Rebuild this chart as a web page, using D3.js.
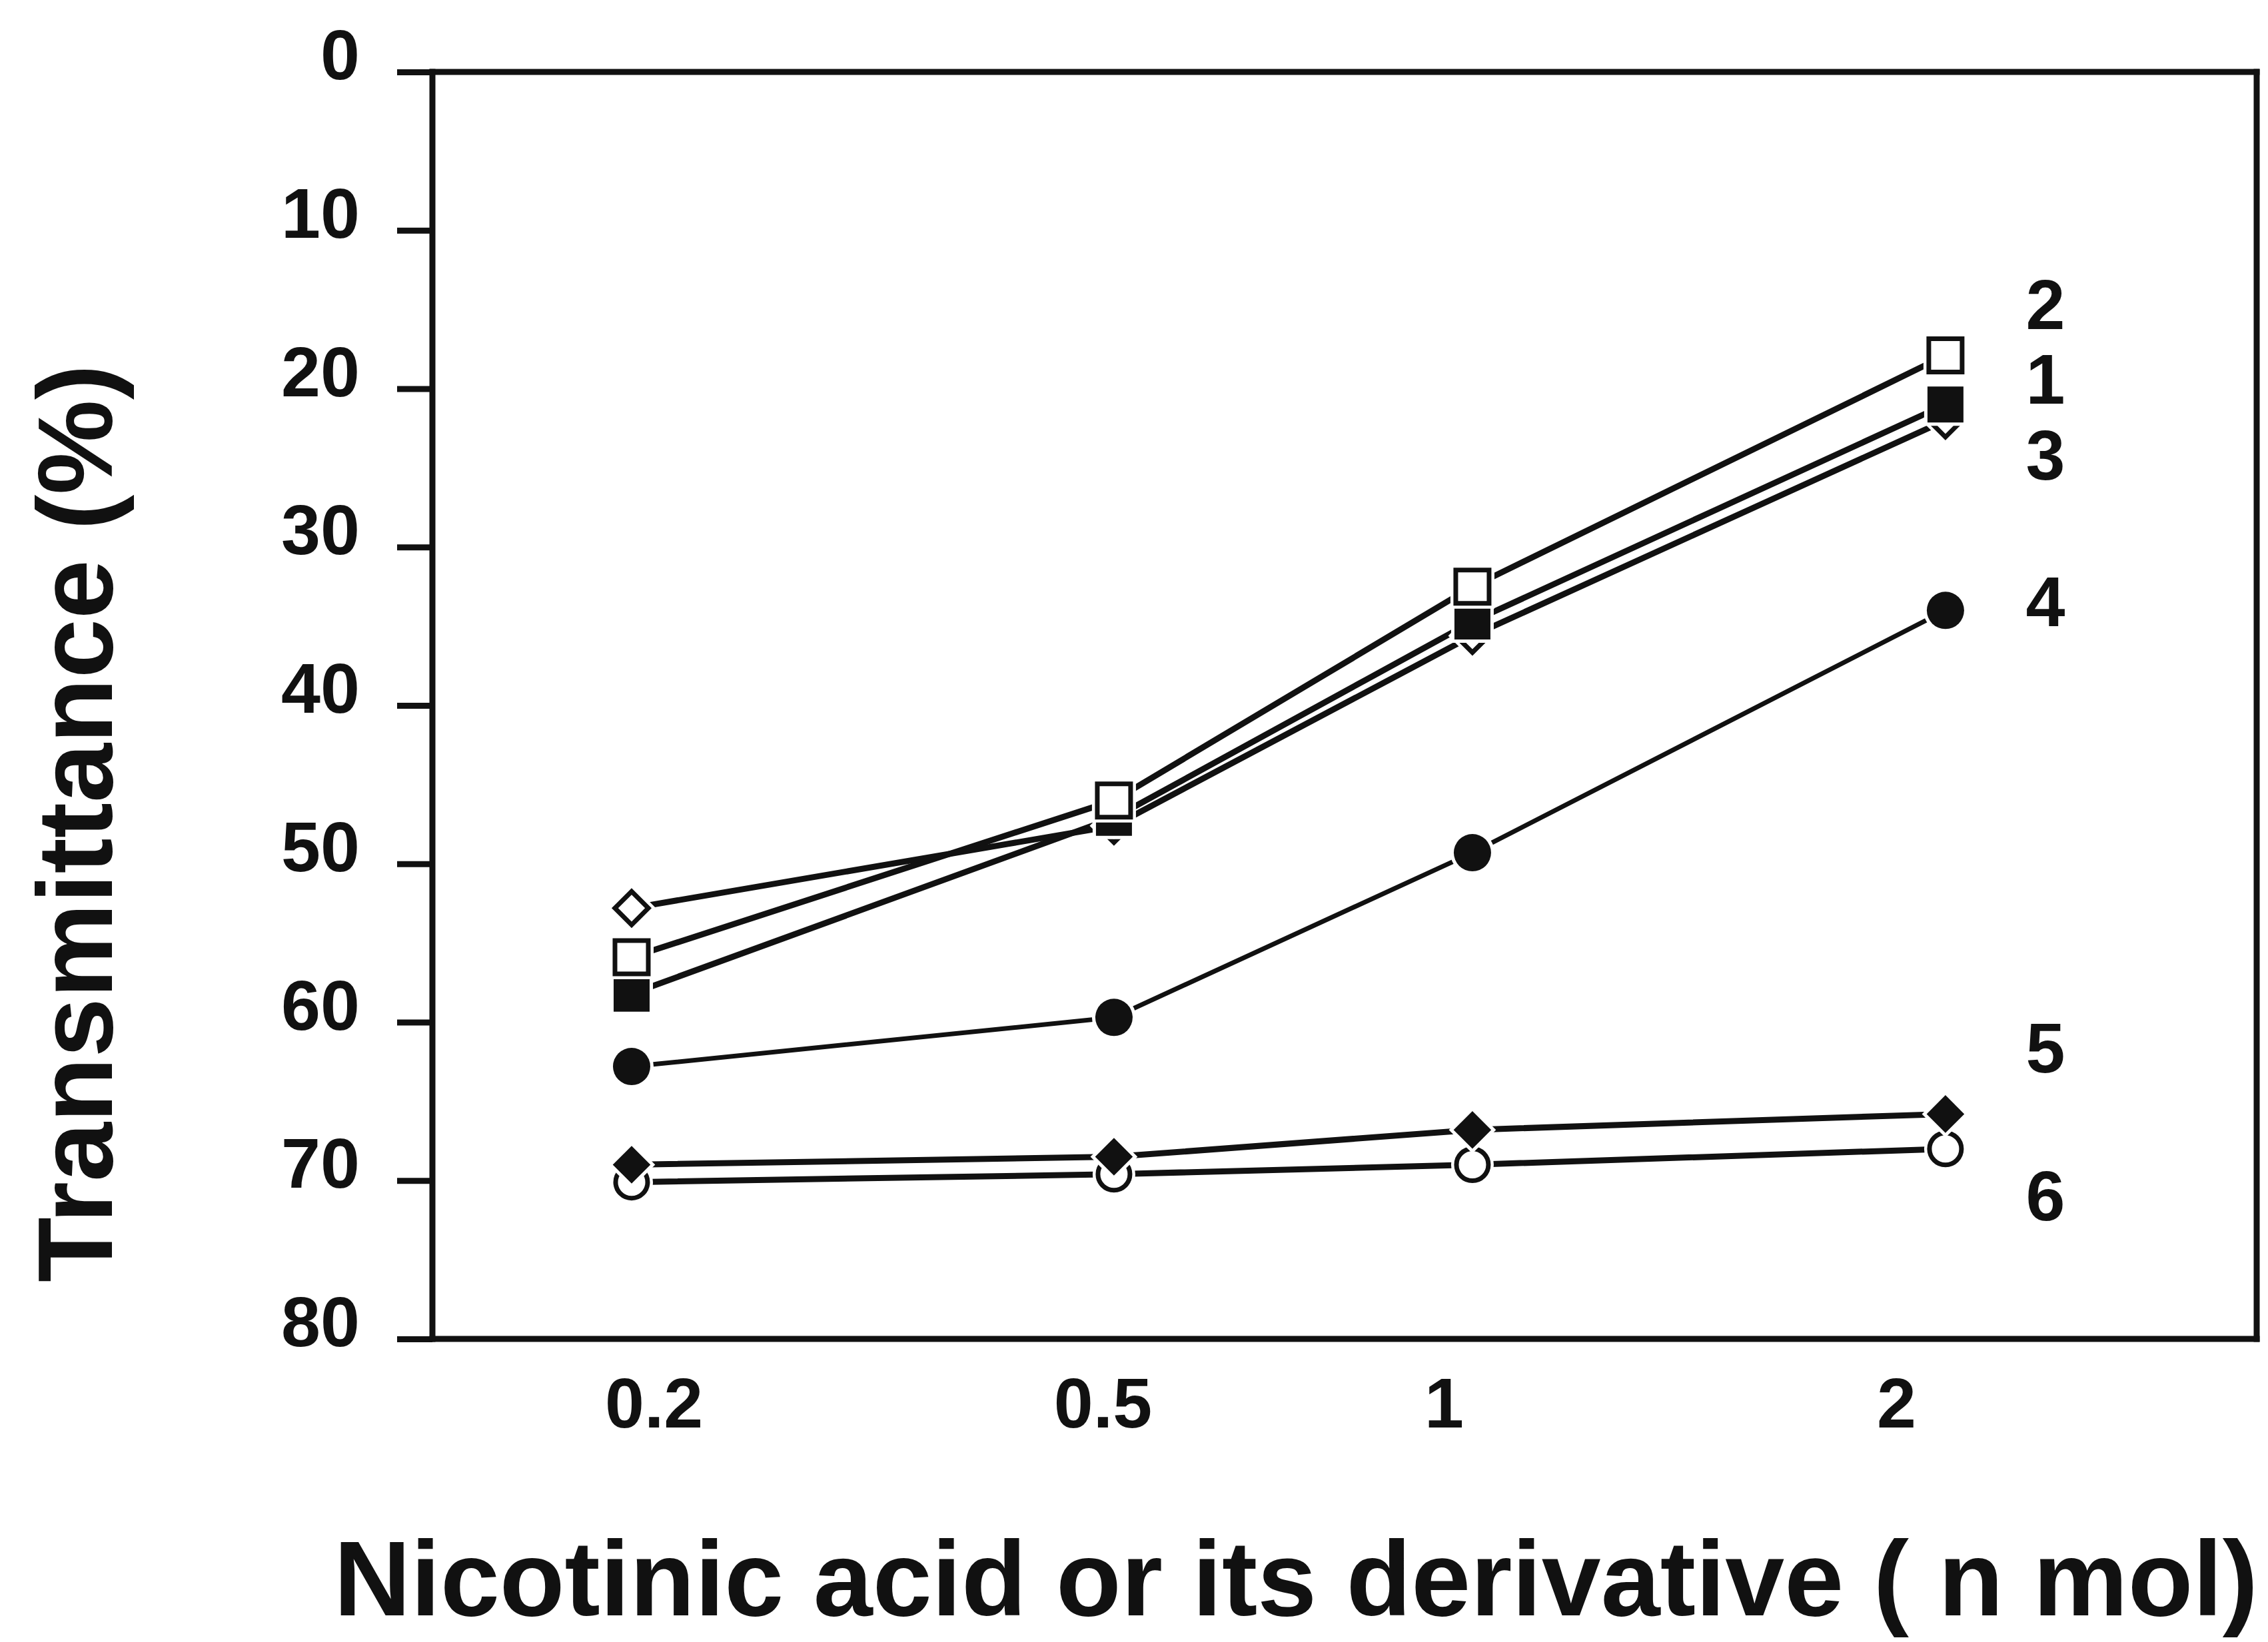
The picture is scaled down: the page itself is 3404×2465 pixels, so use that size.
<!DOCTYPE html>
<html>
<head>
<meta charset="utf-8">
<script src="https://cdn.jsdelivr.net/npm/d3@7"></script>
<style>
  html, body { margin: 0; padding: 0; background: #ffffff; }
  svg { display: block; }
  text { font-family: "Liberation Sans", Arial, Helvetica, sans-serif; font-weight: bold; fill: #111; }
</style>
</head>
<body>
<svg id="chart" width="3404" height="2465"></svg>
<script>
// Amount of nicotinic acid or derivative (n mol)
const doses = [0.2, 0.5, 1, 2];
const doseLabels = ["0.2", "0.5", "1", "2"];

// Transmittance (%) for each compound, one value per dose
const series1 = [58.2, 47.1, 34.7, 21.0];
const series2 = [55.9, 46.0, 32.5, 17.9];
const series3 = [52.8, 47.6, 35.6, 22.0];
const series4 = [62.8, 59.7, 49.3, 34.0];
const series5 = [69.0, 68.5, 66.8, 65.8];
const series6 = [70.1, 69.6, 69.0, 68.0];
const seriesNames = ["1", "2", "3", "4", "5", "6"];

const yTickValues = [0, 10, 20, 30, 40, 50, 60, 70, 80];

// ---- layout ----
const W = 3404, H = 2465;
const plot = { left: 649, top: 108, right: 3387, bottom: 2010 };
const pw = plot.right - plot.left;

const svg = d3.select("#chart");
svg.append("rect").attr("width", W).attr("height", H).attr("fill", "#ffffff");

// Doses sit on a hand-spaced category axis
const x = d3.scaleLinear()
  .domain(doses)
  .range([0.1092, 0.3736, 0.5701, 0.8294].map(f => plot.left + f * pw));
const xLabel = d3.scaleLinear()
  .domain(doses)
  .range([0.1213, 0.3674, 0.5544, 0.8024].map(f => plot.left + f * pw));

// Transmittance axis runs downward: 0 at top, 80 at bottom
const y = d3.scaleLinear().domain([0, 80]).range([plot.top, plot.bottom]);

const frameW = 9;
const ink = "#111";
const tickFont = 106;

// Left axis with outward ticks
const yAxis = d3.axisLeft(y)
  .tickValues(yTickValues)
  .tickSize(53)
  .tickPadding(56)
  .tickFormat(d3.format("d"));
const gy = svg.append("g").attr("transform", `translate(${plot.left},0)`).call(yAxis);
gy.select(".domain").remove();
gy.selectAll(".tick line").attr("stroke", ink).attr("stroke-width", frameW);
gy.selectAll(".tick text")
  .attr("font-size", tickFont)
  .attr("dy", "0.1em")
  .style("font-family", '"Liberation Sans", Arial, sans-serif')
  .style("font-weight", "bold")
  .attr("fill", ink);

// Bottom axis: labels only
const xAxis = d3.axisBottom(xLabel)
  .tickValues(doses)
  .tickSize(0)
  .tickPadding(58)
  .tickFormat((d, i) => doseLabels[i]);
const gx = svg.append("g").attr("transform", `translate(0,${plot.bottom})`).call(xAxis);
gx.select(".domain").remove();
gx.selectAll(".tick text")
  .attr("font-size", tickFont)
  .attr("dy", "0.71em")
  .style("font-family", '"Liberation Sans", Arial, sans-serif')
  .style("font-weight", "bold")
  .attr("fill", ink);

// Plot frame
const frame = svg.append("g").attr("stroke", ink).attr("stroke-width", frameW).attr("fill", "none")
  .attr("stroke-linecap", "square");
frame.append("line").attr("x1", plot.left).attr("x2", plot.right).attr("y1", plot.top).attr("y2", plot.top);
frame.append("line").attr("x1", plot.left).attr("x2", plot.right).attr("y1", plot.bottom).attr("y2", plot.bottom);
frame.append("line").attr("x1", plot.left).attr("x2", plot.left).attr("y1", plot.top).attr("y2", plot.bottom);
frame.append("line").attr("x1", plot.right).attr("x2", plot.right).attr("y1", plot.top).attr("y2", plot.bottom);

// Marker styles per compound
const squareType = d3.symbolSquare;
const markerStyles = [
  { type: squareType, size: 2916, rotate: 0, filled: true },    // 1 filled square
  { type: squareType, size: 2500, rotate: 0, filled: false },   // 2 open square
  { type: squareType, size: 1260, rotate: 45, filled: false },  // 3 open diamond
  { type: d3.symbolCircle, size: 2463, rotate: 0, filled: true },  // 4 filled circle
  { type: squareType, size: 1600, rotate: 45, filled: true },   // 5 filled diamond
  { type: d3.symbolCircle, size: 1810, rotate: 0, filled: false } // 6 open circle
];

const allSeries = [series1, series2, series3, series4, series5, series6];
const data = allSeries.map((vals, i) => ({
  name: seriesNames[i],
  style: markerStyles[i],
  points: vals.map((v, j) => ({ dose: doses[j], value: v }))
}));

// Connecting lines
const line = d3.line().x(d => x(d.dose)).y(d => y(d.value));
svg.append("g").selectAll("path").data(data).join("path")
  .attr("d", d => line(d.points))
  .attr("fill", "none")
  .attr("stroke", ink)
  .attr("stroke-width", (d, i) => i === 3 ? 7 : 9)
  .attr("stroke-linejoin", "round");

// Markers, with a thin white halo, stacked so open squares sit on top
const drawOrder = [5, 4, 3, 2, 0, 1];
const markers = svg.append("g");
drawOrder.forEach(i => {
  const s = data[i];
  const sym = d3.symbol().type(s.style.type).size(s.style.size);
  const g = markers.append("g");
  const pts = g.selectAll("g").data(s.points).join("g")
    .attr("transform", d => `translate(${x(d.dose)},${y(d.value)}) rotate(${s.style.rotate})`);
  pts.append("path").attr("d", sym())
    .attr("fill", "#ffffff").attr("stroke", "#ffffff")
    .attr("stroke-width", s.style.filled ? 10 : 16);
  pts.append("path").attr("d", sym())
    .attr("fill", s.style.filled ? ink : "#ffffff")
    .attr("stroke", ink)
    .attr("stroke-width", s.style.filled ? 0 : 7);
});

// Compound numbers beside the last points
const labelShift = [-39, -78, 51, -15, -101, 69];
svg.append("g").selectAll("text").data(data).join("text")
  .attr("x", d => x(doses[doses.length - 1]) + 150)
  .attr("y", (d, i) => y(d.points[d.points.length - 1].value) + labelShift[i])
  .attr("dy", "0.36em")
  .attr("text-anchor", "middle")
  .attr("font-size", tickFont)
  .text(d => d.name);

// Axis titles
svg.append("text")
  .attr("x", 501).attr("y", 2425)
  .attr("font-size", 160)
  .attr("textLength", 2888)
  .attr("lengthAdjust", "spacingAndGlyphs")
  .text("Nicotinic acid or its derivative ( n mol)");

svg.append("text")
  .attr("transform", "translate(168,1236) rotate(-90)")
  .attr("text-anchor", "middle")
  .attr("font-size", 160)
  .text("Transmittance (%)");
</script>
</body>
</html>
